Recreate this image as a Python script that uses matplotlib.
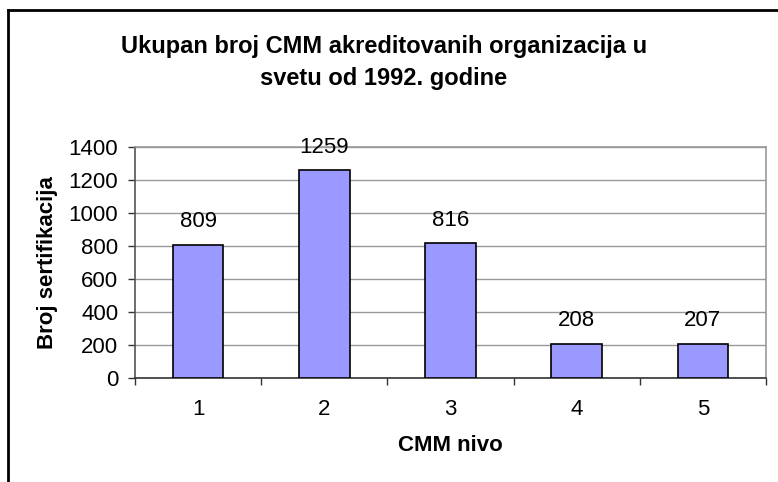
import matplotlib
matplotlib.use("Agg")
import matplotlib.pyplot as plt
from matplotlib.lines import Line2D

categories = ["1", "2", "3", "4", "5"]
values = [809, 1259, 816, 208, 207]
yticks = [0, 200, 400, 600, 800, 1000, 1200, 1400]

plt.rcParams['font.family'] = ['Liberation Sans', 'DejaVu Sans']

W, H = 778, 482
fig = plt.figure(figsize=(W / 100, H / 100), dpi=100)
fig.patch.set_facecolor("white")

# outer frame (top and left visible)
fig.add_artist(Line2D([8 / W, 1.0], [1 - 10 / H, 1 - 10 / H], transform=fig.transFigure,
                      color="black", lw=2))
fig.add_artist(Line2D([8 / W, 8 / W], [1 - 10 / H, 0.0], transform=fig.transFigure,
                      color="black", lw=2))

ax = fig.add_axes([135 / W, (H - 378) / H, (766 - 135) / W, (378 - 147) / H])
x = list(range(len(categories)))
bars = ax.bar(x, values, width=0.4, color="#9999FF", edgecolor="black", linewidth=1.2, zorder=3)

ax.set_xlim(-0.5, len(categories) - 0.5)
ax.set_ylim(0, 1400)
ax.set_yticks(yticks)
ax.set_yticklabels([str(v) for v in yticks], fontsize=16)
ax.yaxis.grid(True, color="#999999", linewidth=1, zorder=0)

ax.set_xticks(x)
ax.set_xticklabels(categories, fontsize=16)
ax.set_xticks([i - 0.5 for i in range(len(categories) + 1)], minor=True)
ax.tick_params(axis="x", which="major", length=0, pad=15)
ax.tick_params(axis="x", which="minor", length=5, width=1, color="#333333", direction="out")
ax.tick_params(axis="y", length=5, width=1, color="#333333", direction="out", pad=7)

ax.spines["left"].set_color("#555555")
ax.spines["bottom"].set_color("#333333")
ax.spines["top"].set_color("#999999")
ax.spines["right"].set_color("#999999")
for s in ax.spines.values():
    s.set_linewidth(1.2)

for rect, v in zip(bars, values):
    ax.annotate(str(v), (rect.get_x() + rect.get_width() / 2, v), xytext=(0, 16.5),
                textcoords="offset points", ha="center", va="center", fontsize=16)

ax.set_ylabel("Broj sertifikacija", fontsize=16, fontweight="bold", labelpad=8)
ax.set_xlabel("CMM nivo", fontsize=16, fontweight="bold", labelpad=11)

fig.text(384 / W, 1 - 63 / H, "Ukupan broj CMM akreditovanih organizacija u\nsvetu od 1992. godine",
         ha="center", va="center", fontsize=17, fontweight="bold", linespacing=1.5)

fig.savefig("out.png", dpi=100, facecolor="white")
